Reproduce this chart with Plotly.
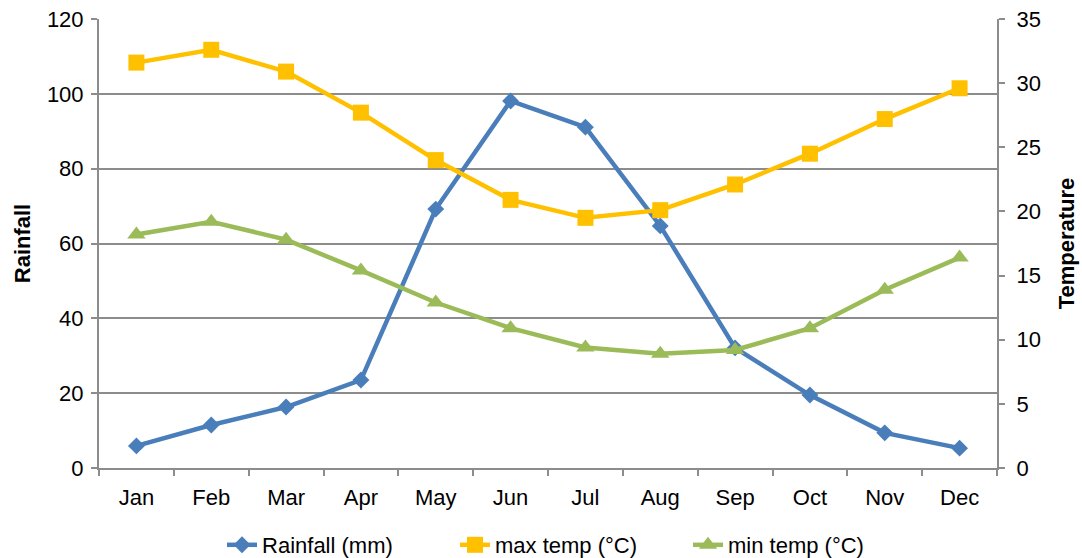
import plotly.graph_objects as go

months = ["Jan", "Feb", "Mar", "Apr", "May", "Jun", "Jul", "Aug", "Sep", "Oct", "Nov", "Dec"]
rainfall = [5.9, 11.5, 16.3, 23.5, 69.2, 98.1, 91.1, 64.7, 32.1, 19.5, 9.4, 5.3]
max_temp = [31.6, 32.6, 30.9, 27.7, 24.0, 20.9, 19.5, 20.1, 22.1, 24.5, 27.2, 29.6]
min_temp = [18.2, 19.2, 17.8, 15.4, 12.9, 10.9, 9.4, 8.9, 9.2, 10.9, 13.9, 16.4]

FONT = "Liberation Sans, Arial, sans-serif"
GRID = "#8c8c8c"
FS = 22

fig = go.Figure()
fig.add_trace(go.Scatter(x=months, y=rainfall, name="Rainfall (mm)", mode="lines+markers",
                         line=dict(color="#4A7EBB", width=4.5),
                         marker=dict(symbol="diamond", size=13, color="#4A7EBB"), yaxis="y"))
fig.add_trace(go.Scatter(x=months, y=max_temp, name="max temp (°C)", mode="lines+markers",
                         line=dict(color="#FFC000", width=4.5),
                         marker=dict(symbol="square", size=16, color="#FFC000"), yaxis="y2"))
fig.add_trace(go.Scatter(x=months, y=min_temp, name="min temp (°C)", mode="lines+markers",
                         line=dict(color="#9BBB59", width=4.5),
                         marker=dict(symbol="triangle-up", size=16, color="#9BBB59"), yaxis="y2"))

fig.update_layout(
    width=1082, height=558,
    margin=dict(l=99, r=85, t=19, b=90, autoexpand=False),
    paper_bgcolor="white", plot_bgcolor="white",
    font=dict(family=FONT, size=FS, color="black"),
    showlegend=True,
    legend=dict(orientation="h", x=0.137, xanchor="left", y=-0.1715, yanchor="middle",
                font=dict(size=FS), traceorder="normal",
                entrywidth=188, entrywidthmode="pixels"),
    xaxis=dict(type="category", range=[-0.5, 11.5], showgrid=False, automargin=False,
               showline=True, linecolor=GRID, linewidth=2,
               ticks="outside", ticklen=6, tickcolor=GRID, tickwidth=2,
               tickson="boundaries", tickfont=dict(size=FS), ticklabelstandoff=9),
    yaxis=dict(range=[0, 120], dtick=20, showgrid=True, gridcolor=GRID, gridwidth=2,
               showline=True, linecolor=GRID, linewidth=2, automargin=False,
               ticks="outside", ticklen=6, tickcolor=GRID, tickwidth=2,
               zeroline=False, ticklabelstandoff=3,
               title=dict(text="<b>Rainfall</b>", font=dict(size=FS), standoff=10),
               tickfont=dict(size=FS)),
    yaxis2=dict(range=[0, 35], dtick=5, overlaying="y", side="right", showgrid=False,
                showline=True, linecolor=GRID, linewidth=2, automargin=False,
                ticks="outside", ticklen=6, tickcolor=GRID, tickwidth=2,
                zeroline=False, ticklabelstandoff=7,
                title=dict(text="<b>Temperature</b>", font=dict(size=FS), standoff=19),
                tickfont=dict(size=FS)),
)

fig.write_html("out.html", config={"displayModeBar": False},
               post_script="document.body.style.margin='0';document.body.style.padding='0';")
